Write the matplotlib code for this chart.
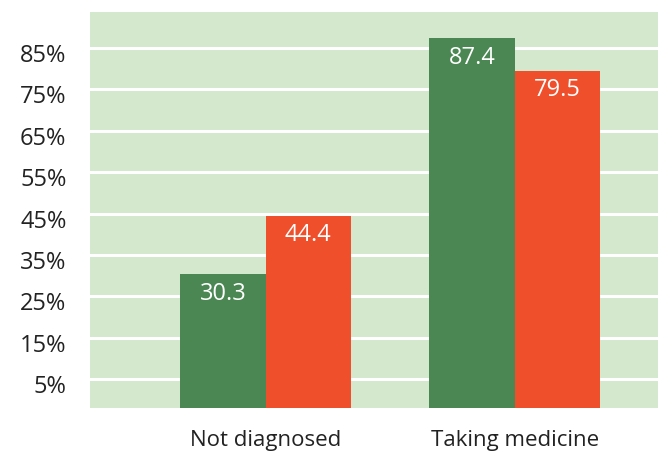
import matplotlib.pyplot as plt
import matplotlib.transforms as mtransforms
import numpy as np

categories = ['Not diagnosed', 'Taking medicine']
series_a = [30.3, 87.4]
series_b = [44.4, 79.5]
y_ticks = [5, 15, 25, 35, 45, 55, 65, 75, 85]

plt.rcParams['font.family'] = ['Open Sans', 'DejaVu Sans']

fig = plt.figure(figsize=(6.58, 4.54), dpi=100)
ax = fig.add_axes([90 / 658, 46 / 454, 568 / 658, 396 / 454])
ax.set_facecolor('#d3e8cd')

y_floor = -2
x = np.arange(len(categories))
w = 0.343
bars_a = ax.bar(x - w / 2, np.array(series_a) - y_floor, w, bottom=y_floor,
                color='#4a8753', zorder=3)
bars_b = ax.bar(x + w / 2, np.array(series_b) - y_floor, w, bottom=y_floor,
                color='#f04f2b', zorder=3)

for bars, vals in ((bars_a, series_a), (bars_b, series_b)):
    for b, v in zip(bars, vals):
        ax.annotate(f'{v:.1f}', (b.get_x() + b.get_width() / 2, v),
                    xytext=(0, -14), textcoords='offset points', ha='center', va='center',
                    color='white', fontsize=17, zorder=4)

ax.set_ylim(y_floor, 93.7)
ax.set_xlim(-0.705, 1.576)
ax.set_yticks(y_ticks)
ax.set_yticklabels([f'{t}%' for t in y_ticks])
ax.set_xticks(x)
ax.set_xticklabels(categories)
ax.yaxis.grid(True, color='white', linewidth=2.2, zorder=1)
ax.set_axisbelow(True)
ax.tick_params(length=0, labelcolor='#222222')
ax.tick_params(axis='x', pad=16, labelsize=16)
ax.tick_params(axis='y', pad=17, labelsize=17)
for s in ax.spines.values():
    s.set_visible(False)

# tick labels sit a little below their gridlines
shift = mtransforms.ScaledTranslation(0, -5 / 100, fig.dpi_scale_trans)
for lbl in ax.get_yticklabels():
    lbl.set_transform(lbl.get_transform() + shift)

fig.savefig('out.png', dpi=100)
